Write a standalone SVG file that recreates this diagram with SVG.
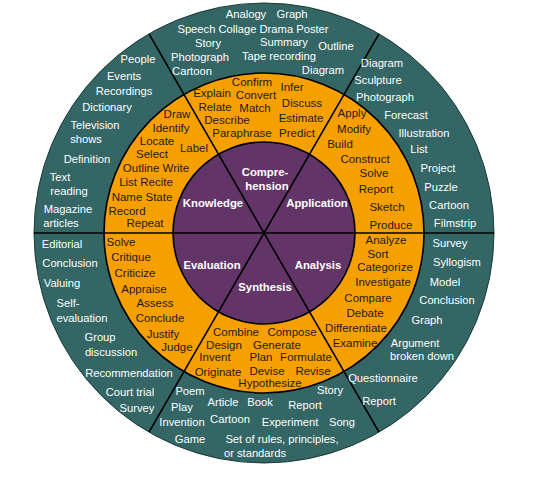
<svg xmlns="http://www.w3.org/2000/svg" width="535" height="480" viewBox="0 0 535 480">
<style>
text{font-family:"Liberation Sans",Arial,sans-serif;text-anchor:middle}
.t{fill:#ffffff;font-size:11.2px}
.o{fill:#1f1a12;font-size:11.5px}
.p{fill:#ffffff;font-size:11.3px;font-weight:bold}
.div{stroke:#000;stroke-width:1.6;fill:none}
</style>
<rect width="535" height="480" fill="#ffffff"/>
<g id="rings">
<circle cx="264" cy="233" r="230" fill="#336664" stroke="#1c3a39" stroke-width="1"/>
<circle cx="264" cy="233" r="160" fill="#f6a000" stroke="#000" stroke-width="1.6"/>
<circle cx="264" cy="233" r="91" fill="#633468" stroke="#000" stroke-width="1.6"/>
</g>
<g id="connectors">
<line class="div" x1="34" y1="233" x2="494" y2="233"/>
<line class="div" x1="149" y1="33.8" x2="379" y2="432.2"/>
<line class="div" x1="379" y1="33.8" x2="149" y2="432.2"/>
</g>
<g id="knowledge">
<text class="p" x="213" y="207">Knowledge</text>
<text class="o" x="177" y="118">Draw</text>
<text class="o" x="171" y="132">Identify</text>
<text class="o" x="157" y="145">Locate</text>
<text class="o" x="194" y="152">Label</text>
<text class="o" x="152" y="158">Select</text>
<text class="o" x="156" y="172">Outline  Write</text>
<text class="o" x="146" y="186">List  Recite</text>
<text class="o" x="142" y="201">Name  State</text>
<text class="o" x="127" y="215">Record</text>
<text class="o" x="145" y="227">Repeat</text>
<text class="t" x="138" y="63">People</text>
<text class="t" x="124" y="80">Events</text>
<text class="t" x="124" y="95">Recordings</text>
<text class="t" x="107" y="111">Dictionary</text>
<text class="t" x="95" y="129">Television</text>
<text class="t" x="86" y="143">shows</text>
<text class="t" x="87" y="163">Definition</text>
<text class="t" x="60" y="181">Text</text>
<text class="t" x="69" y="195">reading</text>
<text class="t" x="68" y="213">Magazine</text>
<text class="t" x="61" y="227">articles</text>
</g>
<g id="comprehension">
<text class="p" x="265" y="176">Compre-</text>
<text class="p" x="267" y="190">hension</text>
<text class="o" x="252" y="86">Confirm</text>
<text class="o" x="292" y="91">Infer</text>
<text class="o" x="212" y="97">Explain</text>
<text class="o" x="256" y="99">Convert</text>
<text class="o" x="302" y="107">Discuss</text>
<text class="o" x="215" y="111">Relate</text>
<text class="o" x="255" y="112">Match</text>
<text class="o" x="227" y="124">Describe</text>
<text class="o" x="301" y="122">Estimate</text>
<text class="o" x="242" y="137">Paraphrase</text>
<text class="o" x="297" y="137">Predict</text>
<text class="t" x="246" y="18">Analogy</text>
<text class="t" x="292" y="18">Graph</text>
<text class="t" x="253" y="33">Speech Collage Drama Poster</text>
<text class="t" x="208" y="47">Story</text>
<text class="t" x="284" y="46">Summary</text>
<text class="t" x="336" y="50">Outline</text>
<text class="t" x="200" y="61">Photograph</text>
<text class="t" x="279" y="60">Tape recording</text>
<text class="t" x="192" y="75">Cartoon</text>
<text class="t" x="323" y="74">Diagram</text>
</g>
<g id="application">
<text class="p" x="317" y="207">Application</text>
<text class="o" x="352" y="117">Apply</text>
<text class="o" x="354" y="133">Modify</text>
<text class="o" x="340" y="148">Build</text>
<text class="o" x="365" y="163">Construct</text>
<text class="o" x="374" y="177">Solve</text>
<text class="o" x="376" y="193">Report</text>
<text class="o" x="387" y="211">Sketch</text>
<text class="o" x="391" y="229">Produce</text>
<text class="t" x="382" y="67">Diagram</text>
<text class="t" x="378" y="84">Sculpture</text>
<text class="t" x="385" y="101">Photograph</text>
<text class="t" x="406" y="119">Forecast</text>
<text class="t" x="424" y="137">Illustration</text>
<text class="t" x="419" y="153">List</text>
<text class="t" x="438" y="172">Project</text>
<text class="t" x="441" y="191">Puzzle</text>
<text class="t" x="449" y="209">Cartoon</text>
<text class="t" x="455" y="227">Filmstrip</text>
</g>
<g id="analysis">
<text class="p" x="318" y="269">Analysis</text>
<text class="o" x="386" y="244">Analyze</text>
<text class="o" x="378" y="258">Sort</text>
<text class="o" x="385" y="271">Categorize</text>
<text class="o" x="383" y="286">Investigate</text>
<text class="o" x="368" y="302">Compare</text>
<text class="o" x="365" y="317">Debate</text>
<text class="o" x="356" y="332">Differentiate</text>
<text class="o" x="355" y="347">Examine</text>
<text class="t" x="450" y="247">Survey</text>
<text class="t" x="457" y="266">Syllogism</text>
<text class="t" x="445" y="286">Model</text>
<text class="t" x="447" y="304">Conclusion</text>
<text class="t" x="427" y="324">Graph</text>
<text class="t" x="415" y="347">Argument</text>
<text class="t" x="422" y="360">broken down</text>
<text class="t" x="383" y="382">Questionnaire</text>
<text class="t" x="379" y="405">Report</text>
</g>
<g id="synthesis">
<text class="p" x="265" y="291">Synthesis</text>
<text class="o" x="236" y="336">Combine</text>
<text class="o" x="292" y="336">Compose</text>
<text class="o" x="224" y="349">Design</text>
<text class="o" x="277" y="349">Generate</text>
<text class="o" x="215" y="361">Invent</text>
<text class="o" x="261" y="361">Plan</text>
<text class="o" x="306" y="361">Formulate</text>
<text class="o" x="218" y="376">Originate</text>
<text class="o" x="267" y="375">Devise</text>
<text class="o" x="313" y="375">Revise</text>
<text class="o" x="270" y="387">Hypothesize</text>
<text class="t" x="190" y="395">Poem</text>
<text class="t" x="330" y="394">Story</text>
<text class="t" x="182" y="411">Play</text>
<text class="t" x="223" y="406">Article</text>
<text class="t" x="260" y="406">Book</text>
<text class="t" x="305" y="409">Report</text>
<text class="t" x="182" y="426">Invention</text>
<text class="t" x="230" y="423">Cartoon</text>
<text class="t" x="290" y="426">Experiment</text>
<text class="t" x="342" y="426">Song</text>
<text class="t" x="190" y="443">Game</text>
<text class="t" x="282" y="443">Set of rules,  principles,</text>
<text class="t" x="255" y="457">or standards</text>
</g>
<g id="evaluation">
<text class="p" x="212" y="269">Evaluation</text>
<text class="o" x="121" y="246">Solve</text>
<text class="o" x="131" y="261">Critique</text>
<text class="o" x="135" y="277">Criticize</text>
<text class="o" x="144" y="293">Appraise</text>
<text class="o" x="155" y="307">Assess</text>
<text class="o" x="160" y="322">Conclude</text>
<text class="o" x="163" y="338">Justify</text>
<text class="o" x="177" y="351">Judge</text>
<text class="t" x="62" y="248">Editorial</text>
<text class="t" x="70" y="267">Conclusion</text>
<text class="t" x="62" y="287">Valuing</text>
<text class="t" x="68" y="307">Self-</text>
<text class="t" x="82" y="322">evaluation</text>
<text class="t" x="100" y="341">Group</text>
<text class="t" x="111" y="356">discussion</text>
<text class="t" x="129" y="377">Recommendation</text>
<text class="t" x="130" y="396">Court trial</text>
<text class="t" x="137" y="412">Survey</text>
</g>
</svg>
